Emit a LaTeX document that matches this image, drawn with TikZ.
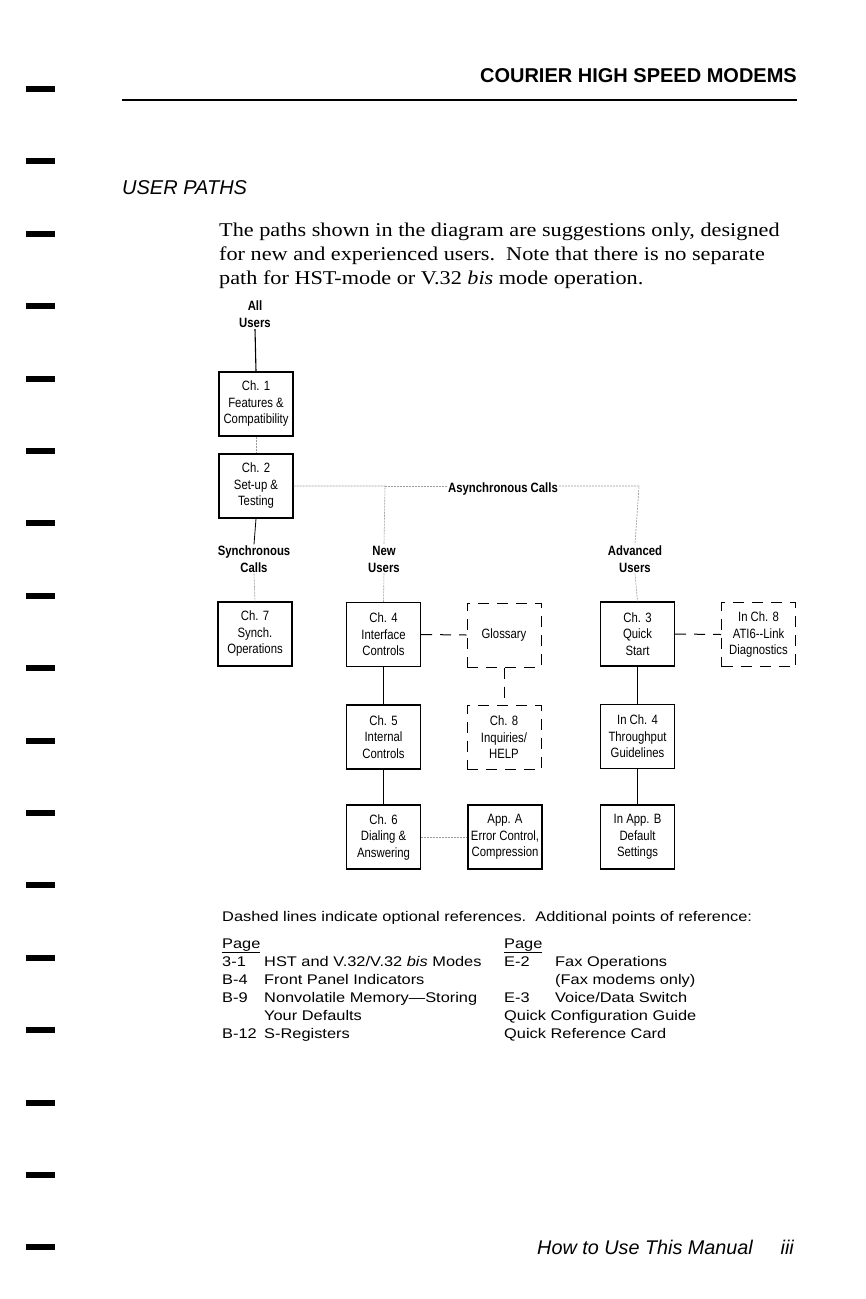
\documentclass[tikz,border=0pt]{standalone}
\usepackage{fontspec}
\setmainfont[FakeStretch=1.14]{Liberation Serif}
\newfontfamily\sansf{Liberation Sans}
\newfontfamily\widef[FakeStretch=1.17]{Liberation Sans}
\newfontfamily\condf[FakeStretch=0.84]{Liberation Sans}
\begin{document}
\begin{tikzpicture}[x=1pt,y=-1pt,
  box/.style={draw, line width=1.3pt, minimum width=74pt, minimum height=64pt, inner sep=0pt, align=center, font=\condf\fontsize{13.5}{16.5}\selectfont},
  optbox/.style={box, line width=1pt, dash pattern=on 11pt off 8pt},
  lbl/.style={align=center, font=\condf\bfseries\fontsize{13.5}{17}\selectfont, inner sep=1pt},
  solidlink/.style={line width=1.1pt},
  faint/.style={black!40, line width=0.6pt, dash pattern=on 2pt off 1pt},
  optlink/.style={line width=1pt, dash pattern=on 11pt off 8pt},
  body/.style={anchor=base west, inner sep=0pt, font=\fontsize{19.5}{24}\selectfont},
  small/.style={anchor=base west, inner sep=0pt, font=\widef\fontsize{14}{18}\selectfont},
]
\fill[white] (0,0) rectangle (866,1299);
\useasboundingbox (0,0) rectangle (866,1299);

% margin tabs
\foreach \i in {0,...,16}
  \fill[black] (26,{86+72.4*\i}) rectangle (55,{92+72.4*\i});

% header
\node[anchor=base east, inner sep=0pt, font=\sansf\bfseries\fontsize{20}{24}\selectfont] (hdr) at (797,82) {COURIER HIGH SPEED MODEMS};
\draw[line width=2pt] (122,100) -- (797,100);
\node[anchor=base west, inner sep=0pt, font=\sansf\itshape\fontsize{20}{24}\selectfont] (title) at (122,194) {USER PATHS};

% body text
\node[body] (b1) at (219,236) {The paths shown in the diagram are suggestions only, designed};
\node[body] (b2) at (219,260) {for new and experienced users.\ \ Note that there is no separate};
\node[body] (b3) at (219,284) {path for HST-mode or V.32 \textit{bis} mode operation.};

% diagram labels
\node[lbl] (allu) at (255,314.5) {All\\Users};
\node[lbl] (sync) at (254,559) {Synchronous\\Calls};
\node[lbl] (newu) at (384,559) {New\\Users};
\node[lbl] (adv) at (635,559) {Advanced\\Users};
\node[lbl] (async) at (503,489) {Asynchronous Calls};

% boxes
\node[box] (ch1) at (256,404) {Ch. 1\\Features \&\\Compatibility};
\node[box] (ch2) at (256,486) {Ch. 2\\Set-up \&\\Testing};
\node[box] (ch7) at (255,634) {Ch. 7\\Synch.\\Operations};
\node[box] (ch4) at (383.5,634.5) {Ch. 4\\Interface\\Controls};
\node[box] (ch5) at (383.5,737) {Ch. 5\\Internal\\Controls};
\node[box] (ch6) at (383.5,837) {Ch. 6\\Dialing \&\\Answering};
\node[optbox] (glos) at (504,635) {Glossary};
\node[optbox] (ch8) at (504,737.5) {Ch. 8\\Inquiries/\\HELP};
\node[box] (appa) at (505,837) {App. A\\Error Control,\\Compression};
\node[box] (ch3) at (637.5,634) {Ch. 3\\Quick\\Start};
\node[optbox] (in8) at (758.5,634.5) {In Ch. 8\\ATI6-{}-Link\\Diagnostics};
\node[box] (in4) at (637.5,736.5) {In Ch. 4\\Throughput\\Guidelines};
\node[box] (inb) at (637.5,837) {In App. B\\Default\\Settings};

% junctions
\coordinate (jl) at (385,486);
\coordinate (jr) at (639,486);

% connectors
\draw[solidlink] (allu.south) -- (ch1.north);
\draw[faint] (ch1.south) -- (ch2.north);
\draw[solidlink, line width=0.8pt] (ch2.south) -- (sync.north);
\draw[faint] (sync.south) -- (ch7.north);
\draw[faint] (ch2.east) -- (jl) -- (newu.north);
\draw[faint] (jl) -- (async.west |- jl);
\draw[faint] (async.east |- jr) -- (jr) -- (adv.north);
\draw[faint] (newu.south) -- (ch4.north);
\draw[faint] (adv.south) -- (ch3.north);
\draw[solidlink] (ch4.south) -- (ch5.north);
\draw[solidlink] (ch5.south) -- (ch6.north);
\draw[solidlink] (ch3.south) -- (in4.north);
\draw[solidlink] (in4.south) -- (inb.north);
\draw[optlink] (ch4.east) -- (glos.west);
\draw[optlink] (glos.south) -- (ch8.north);
\draw[optlink] (ch3.east) -- (in8.west);
\draw[faint] (ch6.east) -- (appa.west);

% bottom text
\node[small] (d0) at (222,921) {Dashed lines indicate optional references.\ \ Additional points of reference:};
\node[small] (pl) at (222,948) {\underline{Page}};
\node[small] (pr) at (504,948) {\underline{Page}};
\node[small] (c1) at (222,966) {3-1};
\node[small] (t1) at (264,966) {HST and V.32/V.32 \textit{bis} Modes};
\node[small] (c2) at (222,984) {B-4};
\node[small] (t2) at (264,984) {Front Panel Indicators};
\node[small] (c3) at (222,1002) {B-9};
\node[small] (t3) at (264,1002) {Nonvolatile Memory—Storing};
\node[small] (t4) at (264,1020) {Your Defaults};
\node[small] (c5) at (222,1038) {B-12};
\node[small] (t5) at (264,1038) {S-Registers};
\node[small] (e1) at (504,966) {E-2};
\node[small] (f1) at (555,966) {Fax Operations};
\node[small] (f2) at (555,984) {(Fax modems only)};
\node[small] (e3) at (504,1002) {E-3};
\node[small] (f3) at (555,1002) {Voice/Data Switch};
\node[small] (q1) at (504,1020) {Quick Configuration Guide};
\node[small] (q2) at (504,1038) {Quick Reference Card};

% footer
\node[anchor=base west, inner sep=0pt, font=\sansf\itshape\fontsize{19.8}{24}\selectfont] (foot) at (537,1254) {How to Use This Manual};
\node[anchor=base east, inner sep=0pt, font=\sansf\itshape\fontsize{19.8}{24}\selectfont] (pg) at (794,1254) {iii};
\end{tikzpicture}
\end{document}
